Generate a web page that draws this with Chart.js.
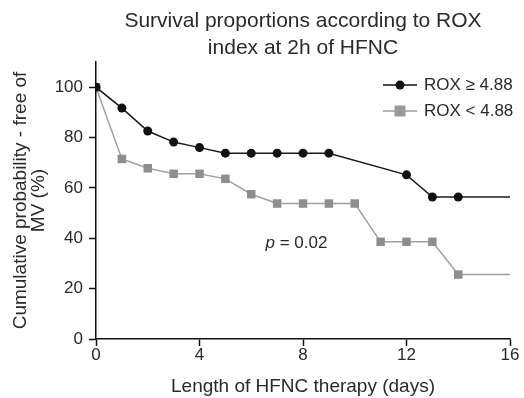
<!DOCTYPE html>
<html>
<head>
<meta charset="utf-8">
<script src="https://cdn.jsdelivr.net/npm/chart.js@4"></script>
<style>
  html, body { margin: 0; padding: 0; background: #fff; }
  #wrap { width: 524px; height: 398px; }
</style>
</head>
<body>
<div id="wrap"><canvas id="km-chart" width="524" height="398"></canvas></div>
<script>
// data
const highDays = [0, 1, 2, 3, 4, 5, 6, 7, 8, 9, 12, 13, 14, 16];
const highValues = [100, 91.7, 82.6, 78.2, 76, 73.8, 73.8, 73.8, 73.8, 73.8, 65.2, 56.4, 56.4, 56.4];
const lowDays = [0, 1, 2, 3, 4, 5, 6, 7, 8, 9, 10, 11, 12, 13, 14, 16];
const lowValues = [100, 71.5, 67.8, 65.6, 65.6, 63.6, 57.5, 53.8, 53.8, 53.8, 53.8, 38.6, 38.6, 38.6, 25.6, 25.6];
const seriesLabels = ['ROX \u2265 4.88', 'ROX < 4.88'];
const xTicks = [0, 4, 8, 12, 16];
const yTicks = [0, 20, 40, 60, 80, 100];

const FONT = "'Liberation Sans', Arial, sans-serif";
const TEXT = '#2a2a2a';

function toPoints(days, vals) {
  return days.map((d, i) => ({ x: d, y: vals[i] }));
}

// no marker on the last (tail) point
function tailRadius(r) {
  return ctx => (ctx.dataIndex === ctx.dataset.data.length - 1 ? 0 : r);
}

const extrasPlugin = {
  id: 'extras',
  afterDraw(chart) {
    const { ctx, chartArea } = chart;
    const cx = (chartArea.left + chartArea.right) / 2;
    ctx.save();
    ctx.fillStyle = TEXT;
    ctx.font = '21px ' + FONT;
    ctx.textAlign = 'center';
    ctx.textBaseline = 'middle';
    ctx.fillText('Survival proportions according to ROX', cx, 21);
    ctx.fillText('index at 2h of HFNC', cx, 48);

    // p value
    const xs = chart.scales.x, ys = chart.scales.y;
    const px = xs.getPixelForValue(6.55), py = ys.getPixelForValue(38);
    ctx.textAlign = 'left';
    ctx.font = 'italic 17px ' + FONT;
    ctx.fillText('p', px, py);
    const pw = ctx.measureText('p').width;
    ctx.font = '17px ' + FONT;
    ctx.fillText(' = 0.02', px + pw, py);

    // legend
    const styles = [
      { color: '#111', marker: 'circle' },
      { color: '#9a9a9a', marker: 'rect' }
    ];
    seriesLabels.forEach((lab, i) => {
      const y = 85 + i * 26;
      const x0 = 383, x1 = 417, xm = 400;
      ctx.strokeStyle = styles[i].color;
      ctx.lineWidth = 1.5;
      ctx.beginPath();
      ctx.moveTo(x0, y); ctx.lineTo(x1, y);
      ctx.stroke();
      ctx.fillStyle = styles[i].color;
      if (styles[i].marker === 'circle') {
        ctx.beginPath(); ctx.arc(xm, y, 4.5, 0, Math.PI * 2); ctx.fill();
      } else {
        ctx.fillRect(xm - 5.5, y - 5.5, 11, 11);
      }
      ctx.fillStyle = TEXT;
      ctx.font = '17px ' + FONT;
      ctx.textAlign = 'left';
      ctx.fillText(lab, 424, y);
    });
    ctx.restore();
  }
};

const ctx = document.getElementById('km-chart').getContext('2d');
new Chart(ctx, {
  type: 'line',
  data: {
    datasets: [
      {
        label: seriesLabels[0],
        data: toPoints(highDays, highValues),
        borderColor: '#1a1a1a',
        backgroundColor: '#111',
        borderWidth: 1.5,
        pointStyle: 'circle',
        pointRadius: tailRadius(4.5),
        pointBorderWidth: 0,
        tension: 0
      },
      {
        label: seriesLabels[1],
        data: toPoints(lowDays, lowValues),
        borderColor: '#a0a0a0',
        backgroundColor: '#8e8e8e',
        borderWidth: 1.5,
        pointStyle: 'rect',
        pointRadius: tailRadius(6),
        pointBorderWidth: 0,
        tension: 0
      }
    ]
  },
  options: {
    responsive: false,
    animation: false,
    layout: { padding: { top: 62, right: 14, left: 0, bottom: 0 } },
    plugins: { legend: { display: false }, tooltip: { enabled: false } },
    scales: {
      x: {
        type: 'linear',
        min: 0, max: 16,
        afterBuildTicks: s => { s.ticks = xTicks.map(v => ({ value: v })); },
        afterFit: s => { s.height = 59; },
        grid: { display: true, drawOnChartArea: false, drawTicks: true, tickLength: 7, tickColor: '#111', tickWidth: 1.5 },
        border: { color: '#111', width: 1.5 },
        ticks: { color: TEXT, font: { family: FONT, size: 17 }, padding: -1, maxRotation: 0 },
        title: { display: true, text: 'Length of HFNC therapy (days)', color: TEXT, font: { family: FONT, size: 19 }, padding: { top: 0, bottom: 0 } }
      },
      y: {
        min: 0, max: 110,
        afterBuildTicks: s => { s.ticks = yTicks.map(v => ({ value: v })); },
        afterFit: s => { s.width = 96; },
        grid: { display: true, drawOnChartArea: false, drawTicks: true, tickLength: 7, tickColor: '#111', tickWidth: 1.5 },
        border: { color: '#111', width: 1.5 },
        ticks: { color: TEXT, font: { family: FONT, size: 17 }, padding: 6 },
        title: { display: true, text: ['Cumulative probability - free of', 'MV (%)'], color: TEXT, font: { family: FONT, size: 19, lineHeight: 0.95 }, padding: { top: 12, bottom: 0 } }
      }
    }
  },
  plugins: [extrasPlugin]
});
</script>
</body>
</html>
